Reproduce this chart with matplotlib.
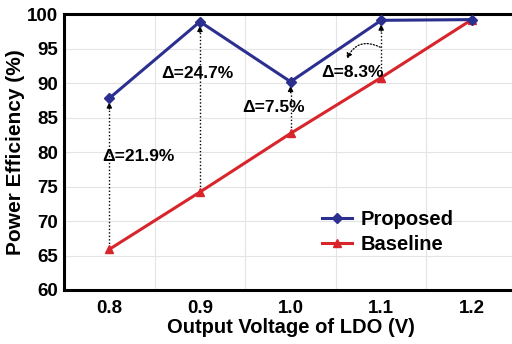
import matplotlib
matplotlib.use('Agg')
import matplotlib.pyplot as plt

plt.rcParams['font.family'] = ['Liberation Sans', 'DejaVu Sans']
plt.rcParams['font.weight'] = 'bold'

# data
vout = [0.8, 0.9, 1.0, 1.1, 1.2]
proposed = [87.8, 98.9, 90.2, 99.1, 99.2]
baseline = [65.9, 74.2, 82.7, 90.8, 99.2]
delta_labels = ['Δ=21.9%', 'Δ=24.7%', 'Δ=7.5%', 'Δ=8.3%']
label_pos = [(0.832, 79.3), (0.897, 91.4), (0.981, 86.4), (1.068, 91.5)]

fig = plt.figure(figsize=(5.12, 3.44), dpi=100)
ax = fig.add_axes([0.125, 0.157, 0.885, 0.802])

# grid
ax.set_xticks([0.85, 0.95, 1.05, 1.15], minor=True)
ax.grid(True, which='major', axis='y', color='#e4e4e4', lw=0.8)
ax.grid(True, which='minor', axis='x', color='#e4e4e4', lw=0.8)
ax.set_axisbelow(True)

ax.plot(vout, proposed, color='#2b2f8f', lw=2.2, marker='D', ms=5,
        label='Proposed', zorder=4)
ax.plot(vout, baseline, color='#d8252b', lw=2.2, marker='^', ms=6,
        label='Baseline', zorder=3)

# dotted arrows baseline -> proposed
for x, lo, hi in zip(vout[:4], baseline[:4], proposed[:4]):
    ax.plot([x, x], [lo + 0.3, hi - 1.5], ls=(0, (1, 1.5)), lw=1.0,
            color='black', zorder=2)
    ax.annotate('', xy=(x, hi - 0.6), xytext=(x, hi - 1.6),
                arrowprops=dict(arrowstyle='-|>', lw=0.8, color='black',
                                mutation_scale=8, shrinkA=0, shrinkB=0),
                zorder=2)

for txt, (x, y) in zip(delta_labels, label_pos):
    ax.text(x, y, txt, ha='center', va='center', fontsize=12.5,
            fontweight='bold', zorder=5)

# curved dotted pointer for the 8.3% label
ax.annotate('', xy=(1.062, 93.5), xytext=(1.099, 95.2),
            arrowprops=dict(arrowstyle='-|>', ls=(0, (1, 1.5)), lw=0.9,
                            color='black', mutation_scale=8,
                            connectionstyle='arc3,rad=0.5',
                            shrinkA=0, shrinkB=0), zorder=5)

ax.set_xlim(0.75, 1.25)
ax.set_ylim(60, 100)
ax.set_xticks(vout)
ax.set_xticklabels(['0.8', '0.9', '1.0', '1.1', '1.2'])
ax.set_yticks(range(60, 101, 5))
ax.tick_params(axis='both', which='both', length=0, labelsize=13.5, pad=4)
ax.tick_params(axis='x', pad=7)

for s in ['left', 'bottom', 'top']:
    ax.spines[s].set_linewidth(2.2)
ax.spines['right'].set_visible(False)

ax.set_xlabel('Output Voltage of LDO (V)', fontsize=14.5, fontweight='bold',
              labelpad=1)
ax.set_ylabel('Power Efficiency (%)', fontsize=15, fontweight='bold',
              labelpad=2)

ax.legend(loc='center left', bbox_to_anchor=(0.53, 0.21), frameon=False,
          fontsize=14.5, handlelength=1.5, handletextpad=0.4,
          labelspacing=0.3)

fig.savefig('out.png', dpi=100)
